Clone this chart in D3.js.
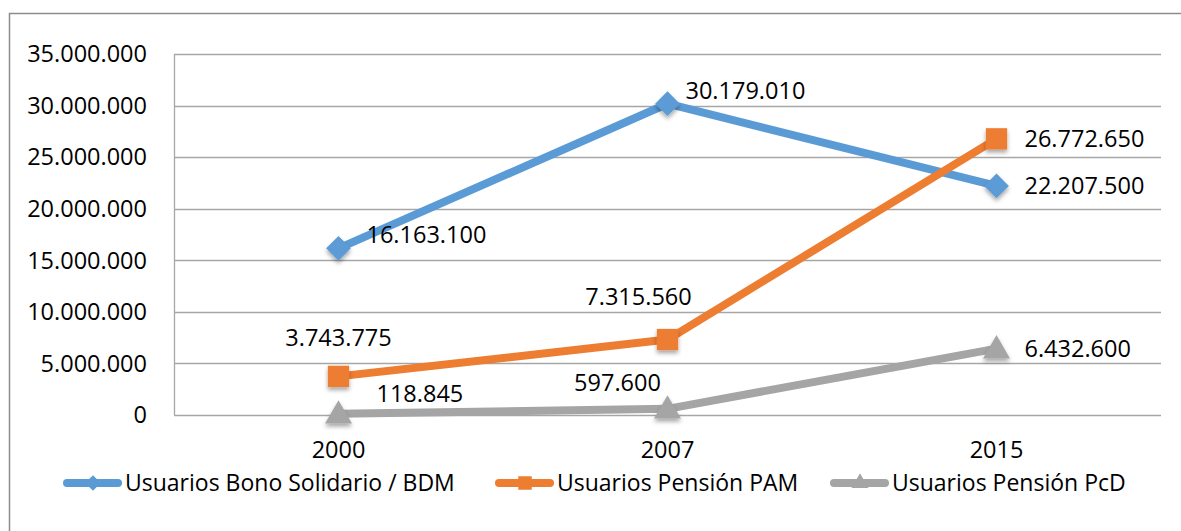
<!DOCTYPE html>
<html lang="es">
<head>
<meta charset="UTF-8">
<title>Usuarios</title>
<script src="https://d3js.org/d3.v7.min.js"></script>
<style>
  body { margin: 0; background: #fff; }
  text { font-family: "Open Sans", sans-serif; fill: #000; }
</style>
</head>
<body>
<svg width="1181" height="531"></svg>
<script>
    const years = ["2000", "2007", "2015"];
    const seriesNames = ["Usuarios Bono Solidario / BDM", "Usuarios Pensión PAM", "Usuarios Pensión PcD"];
    const bonoValues = [16163100, 30179010, 22207500];
    const pamValues = [3743775, 7315560, 26772650];
    const pcdValues = [118845, 597600, 6432600];
    const yTicks = [0, 5000000, 10000000, 15000000, 20000000, 25000000, 30000000, 35000000];

    const colors = ["#5b9bd5", "#ed7d31", "#a5a5a5"];
    const shapes = [d3.symbolDiamond2, d3.symbolSquare2, d3.symbolTriangle2];
    const markerSize = [390, 580, 520];
    // label offsets from the point (dx, dy, anchor)
    const labelPos = [
        [[28, -14, "start"], [18, -13, "start"], [28, 0, "start"]],
        [[0, -39, "middle"], [-29, -43, "middle"], [28, 0, "start"]],
        [[38, -20, "start"], [-50, -26, "middle"], [28, 0, "start"]]
    ];

    const series = [bonoValues, pamValues, pcdValues].map((v, i) => ({ name: seriesNames[i], values: v, color: colors[i], shape: shapes[i] }));

    const fmt = d3.formatLocale({ decimal: ",", thousands: ".", grouping: [3], currency: ["", ""] }).format(",d");

    const svg = d3.select("svg");

    const defs = svg.append("defs");
    const f = defs.append("filter").attr("id", "sh").attr("x", "-50%").attr("y", "-50%").attr("width", "200%").attr("height", "200%");
    f.append("feDropShadow").attr("dx", 0).attr("dy", 3).attr("stdDeviation", 2).attr("flood-color", "#000").attr("flood-opacity", 0.35);

    // chart border
    svg.append("path")
        .attr("d", "M9.5,531 V13.5 H1181")
        .attr("fill", "none").attr("stroke", "#8c8c8c").attr("stroke-width", 1.5);

    const x = d3.scalePoint().domain(years).range([174, 1161]).padding(0.5);
    const y = d3.scaleLinear().domain([0, 35000000]).range([415, 54]);

    // gridlines
    svg.append("g").selectAll("line").data(yTicks).enter().append("line")
        .attr("x1", 174).attr("x2", 1161)
        .attr("y1", d => Math.round(y(d)) + 0.5).attr("y2", d => Math.round(y(d)) + 0.5)
        .attr("stroke", "#a6a6a6").attr("stroke-width", 1.3);

    // y axis line
    svg.append("line").attr("x1", 174.5).attr("x2", 174.5).attr("y1", y(35000000)).attr("y2", y(0))
        .attr("stroke", "#a6a6a6").attr("stroke-width", 1.3);

    svg.append("g").selectAll("text").data(yTicks).enter().append("text")
        .attr("x", 147).attr("y", d => y(d)).attr("dy", "0.35em")
        .attr("text-anchor", "end").style("font-size", "23.5px")
        .text(d => fmt(d));

    svg.append("g").selectAll("text").data(years).enter().append("text")
        .attr("x", d => x(d)).attr("y", 450).attr("dy", "0.35em")
        .attr("text-anchor", "middle").style("font-size", "23.5px")
        .text(d => d);

    const line = d3.line().x((d, i) => x(years[i])).y(d => y(d));

    series.forEach((s, si) => {
        const g = svg.append("g");
        g.append("path").datum(s.values).attr("d", line)
            .attr("fill", "none").attr("stroke", s.color).attr("stroke-width", 8)
            .attr("stroke-linejoin", "round").attr("stroke-linecap", "round");
        g.selectAll("path.m").data(s.values).enter().append("path").attr("class", "m")
            .attr("d", d3.symbol().type(s.shape).size(markerSize[si]))
            .attr("transform", (d, i) => `translate(${x(years[i])},${y(d) + (si === 2 ? 2 : 0)})`)
            .attr("fill", s.color).attr("filter", "url(#sh)");
        g.selectAll("text").data(s.values).enter().append("text")
            .attr("x", (d, i) => x(years[i]) + labelPos[si][i][0])
            .attr("y", (d, i) => y(d) + labelPos[si][i][1])
            .attr("dy", "0.35em")
            .attr("text-anchor", (d, i) => labelPos[si][i][2])
            .style("font-size", "23.5px")
            .text(d => fmt(d));
    });

    // legend
    const legendX = [63, 495, 830];
    const lg = svg.append("g");
    series.forEach((s, i) => {
        const lx = legendX[i], ly = 483;
        lg.append("line").attr("x1", lx + 4).attr("x2", lx + 55).attr("y1", ly).attr("y2", ly)
            .attr("stroke", s.color).attr("stroke-width", 8).attr("stroke-linecap", "round");
        lg.append("path").attr("d", d3.symbol().type(s.shape).size(markerSize[i] * 0.4))
            .attr("transform", `translate(${lx + 30},${ly})`).attr("fill", s.color);
        lg.append("text").attr("x", lx + 62).attr("y", ly).attr("dy", "0.35em")
            .style("font-size", "23px").text(s.name);
    });
</script>
</body>
</html>
